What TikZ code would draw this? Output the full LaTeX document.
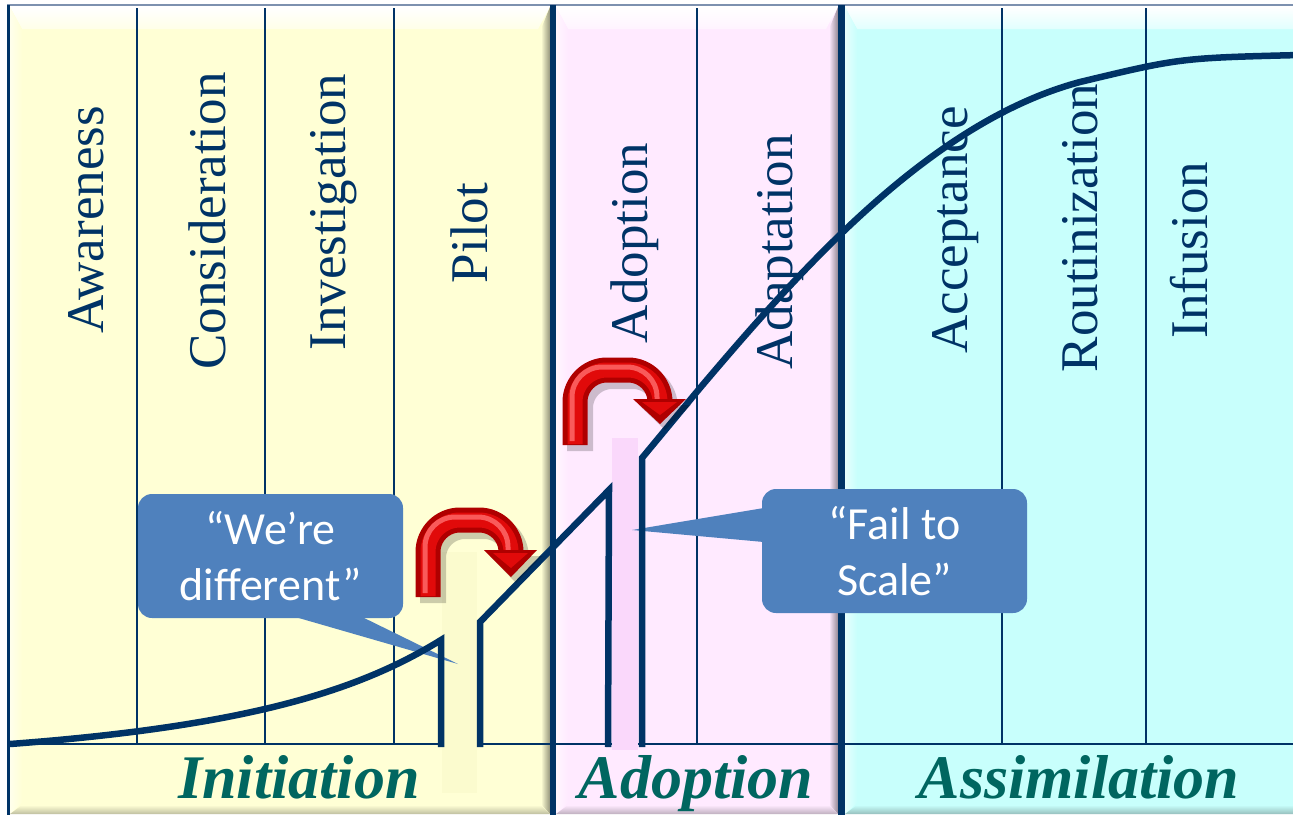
\documentclass[tikz,border=0pt]{standalone}
\usepackage{fontspec}
\setmainfont{Liberation Serif}
\newfontfamily\calloutfont{Carlito}
\definecolor{navy}{RGB}{0,51,102}
\definecolor{panelY}{RGB}{255,255,213}
\definecolor{panelP}{RGB}{255,234,255}
\definecolor{panelC}{RGB}{200,255,252}
\definecolor{tealtext}{RGB}{0,102,96}
\definecolor{callblue}{RGB}{79,129,189}
\definecolor{barY}{RGB}{251,251,206}
\definecolor{barP}{RGB}{250,216,251}
\definecolor{toprule}{RGB}{125,145,175}
\definecolor{arrowdark}{RGB}{175,0,0}
\definecolor{arrowmid}{RGB}{225,10,10}
\definecolor{arrowlight}{RGB}{255,110,110}
\newcommand\BevelPanel[5]{%
  \fill[#5] (#1,#2) rectangle (#3,#4);
  \shade[top color=white, bottom color=white!45!#5] (#1,#2) -- (#3,#2) -- (#3-12,#2+22) -- (#1+12,#2+22) -- cycle;
  \shade[left color=white!55!#5, right color=#5] (#1,#2) -- (#1+12,#2+22) -- (#1+12,#4-11) -- (#1,#4) -- cycle;
  \shade[left color=#5, right color=black!42!#5] (#3,#2) -- (#3-9,#2+22) -- (#3-9,#4-10) -- (#3,#4) -- cycle;
  \shade[top color=#5, bottom color=black!25!#5] (#1,#4) -- (#1+12,#4-9) -- (#3-9,#4-9) -- (#3,#4) -- cycle;
}
\newcommand\UTurnArrow[6]{%
  % #1 left leg x, #2 bottom y, #3 top y, #4 right leg x, #5 head base y, #6 tip y
  \draw[black, opacity=0.2, line width=26pt, rounded corners=32pt] (#1+5,#2+6) -- (#1+5,#3+6) -- (#4+5,#3+6) -- (#4+5,#5+4);
  \fill[black, opacity=0.2] (#4-21,#5+4) -- (#4+31,#5+4) -- (#4+5,#6+6) -- cycle;
  \draw[arrowdark, line width=25pt, rounded corners=32pt] (#1,#2) -- (#1,#3) -- (#4,#3) -- (#4,#5);
  \draw[arrowmid, line width=15pt, rounded corners=32pt] (#1,#2-1) -- (#1,#3) -- (#4,#3) -- (#4,#5);
  \draw[arrowlight, opacity=0.8, line width=5pt, rounded corners=30pt] (#1-3,#2-4) -- (#1-3,#3-3) -- (#4-3,#3-3) -- (#4-3,#5-2);
  \fill[arrowdark] (#4-27,#5-2) -- (#4+26,#5-2) -- (#4,#6) -- cycle;
  \fill[arrowmid] (#4-18,#5+1) -- (#4+17,#5+1) -- (#4,#6-9) -- cycle;
}
\tikzset{
  divider/.style={draw=navy, line width=1.6pt},
  stage/.style={rotate=90, anchor=base, inner sep=0pt, text=navy, font=\fontsize{53}{53}\selectfont},
  phase/.style={anchor=base, inner sep=0pt, text=tealtext, font=\fontsize{62}{62}\selectfont\bfseries\itshape},
  curve/.style={draw=navy, line width=6.5pt, line join=miter},
  callout/.style={fill=callblue, rounded corners=14pt, minimum width=265pt, minimum height=124pt, align=center, text=white, inner sep=0pt, font=\calloutfont\fontsize{46}{56}\selectfont},
}
\begin{document}
\begin{tikzpicture}[x=1pt,y=-1pt]
\useasboundingbox (0,0) rectangle (1293,819);
\fill[white] (0,0) rectangle (1293,819);
% panels
\BevelPanel{10}{7}{550}{814}{panelY}
\BevelPanel{556}{7}{838}{814}{panelP}
\BevelPanel{845}{7}{1305}{814}{panelC}
\draw[toprule, line width=2.2pt] (7,5) -- (1293,5);
% separators
\fill[navy] (7,5) rectangle (10,815);
\fill[navy] (550,5) rectangle (556,815);
\fill[navy] (838,5) rectangle (845,815);
% column dividers and baseline
\foreach \cx in {137,265,394,697,1002,1146} {\draw[divider] (\cx,8) -- (\cx,744);}
\draw[divider] (10,744) -- (1293,744);
% stage labels
\node[stage] (aw) at (103,220) {Awareness};
\node[stage] (co) at (225,221) {Consideration};
\node[stage] (in) at (345,212) {Investigation};
\node[stage] (pi) at (487,233) {Pilot};
\node[stage] (ad) at (647,243) {Adoption};
\node[stage] (aa) at (792,252) {Adaptation};
\node[stage] (ac) at (967,230) {Acceptance};
\node[stage] (ro) at (1097,228) {Routinization};
\node[stage] (inf) at (1207,250) {Infusion};
% phase labels
\node[phase] (ini) at (299,798) {Initiation};
\node[phase] (adp) at (696,798) {Adoption};
\node[phase] (ass) at (1079,798) {Assimilation};
% pale gap bars
\fill[barY] (442,552) rectangle (477,793);
\fill[barP] (612,438) rectangle (638,750);
% callouts
\node[callout] (we) at (270.5,556) {“We’re\\different”};
\coordinate (tipA) at (458,664);
\fill[callblue] ([xshift=22pt,yshift=2pt]we.south) -- (tipA) -- ([xshift=90pt,yshift=2pt]we.south) -- cycle;
\node[callout] (fs) at (894.5,551) {“Fail to\\Scale”};
\coordinate (tipB) at (632,530);
\fill[callblue] ([xshift=2pt,yshift=43pt]fs.west) -- (tipB) -- ([xshift=2pt,yshift=9pt]fs.west) -- cycle;
% adoption curve
\draw[curve] (10,744) .. controls (250,726) and (360,690) .. (441,640) -- (441,747);
\draw[curve] (480,747) -- (480,622) -- (609,490) -- (608,747);
\draw[curve] (642,747) -- (642,458) -- (700,388) .. controls (800,270) and (930,122) .. (1080,82) .. controls (1180,58) .. (1300,55);
% red U-turn arrows
\UTurnArrow{428}{597}{520}{511}{552}{577}
\UTurnArrow{575}{445}{370}{660}{401}{424}
\end{tikzpicture}
\end{document}
